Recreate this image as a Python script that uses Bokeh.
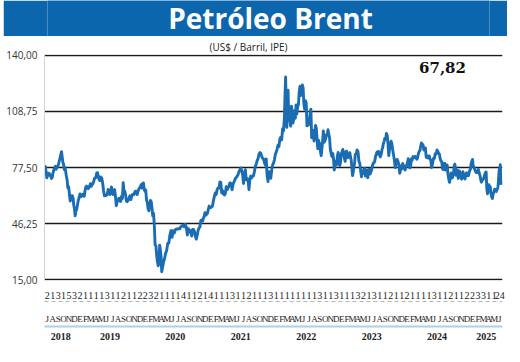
from bokeh.plotting import figure
from bokeh.layouts import column
from bokeh.models import (Range1d, LinearAxis, FixedTicker, Label, Grid, Title)
from bokeh.embed import file_html
from bokeh.resources import INLINE

title = "Petróleo Brent"
subtitle = "(US$ / Barril, IPE)"
y_ticks = [15.0, 46.25, 77.5, 108.75, 140.0]
years = [2018, 2019, 2020, 2021, 2022, 2023, 2024, 2025]
month_letters = (list("JASOND") + list("EFMAMJJASOND") * 6 + list("EFMAMJ"))
day_labels = [2, 1, 3, 1, 5, 3, 2, 1, 1, 1, 1, 3, 1, 1, 2, 1, 1, 2, 2, 3,
              2, 1, 1, 1, 1, 4, 1, 1, 2, 1, 4, 1, 1, 1, 3, 1, 1, 2, 1, 1,
              1, 3, 1, 1, 1, 1, 1, 1, 1, 1, 3, 1, 1, 3, 1,
              1, 1, 3, 2, 1, 3, 1, 1, 2, 1, 1, 2, 1, 1, 1, 1, 3, 1, 1, 2,
              1, 1, 2, 2, 3, 3, 1, 1, 24]
last_day = 24
last_month_days = 30

# Brent prices (US$/barrel), several readings per month, Jul-2018 .. Jun-2025
brent_2018 = [
    [77.3, 78.1, 75.3, 71.8, 72.9, 74.3, 74.2],
    [73.5, 72.6, 71.4, 72.1, 74.7, 76.2, 77.4],
    [78.2, 76.5, 77.6, 78.1, 79.4, 81.2, 82.7],
    [84.8, 86.3, 83.1, 80.3, 79.3, 76.4, 77.6, 75.5],
    [72.9, 70.7, 66.1, 66.8, 62.6, 58.8, 59.5],
    [61.7, 61.7, 60.3, 56.3, 54.4, 50.5, 53.2, 53.8],
]
brent_2019 = [
    [55.9, 58.7, 60.5, 62.7, 61.2, 61.6],
    [62.5, 61.7, 61.5, 64.6, 66.5, 67.1, 66.1],
    [65.7, 66.3, 67.2, 68.5, 67.0, 67.8, 68.4],
    [69.4, 71.1, 71.7, 71.9, 74.5, 74.6, 72.8],
    [70.9, 70.2, 72.2, 71.6, 68.7, 64.5],
    [61.7, 62.0, 61.9, 62.3, 65.2, 64.7],
    [62.4, 64.2, 66.7, 63.4, 62.5, 63.5, 65.2],
    [61.9, 56.2, 58.5, 59.3, 60.4, 58.7],
    [58.7, 61.5, 60.2, 69.0, 64.4, 64.3, 62.5],
    [58.9, 58.4, 59.1, 60.5, 61.7, 59.6],
    [61.7, 62.5, 62.3, 63.3, 64.3, 63.1],
    [62.4, 64.4, 65.2, 66.2, 66.5, 67.9, 66.0],
]
brent_2020 = [
    [68.6, 68.9, 65.4, 64.2, 64.9, 59.3, 58.2],
    [54.5, 53.3, 55.8, 59.1, 58.5, 54.95, 50.5],
    [51.9, 45.3, 34.4, 33.9, 28.7, 25.0, 22.7],
    [24.7, 34.1, 31.7, 28.1, 19.3, 21.4, 23.3, 25.3],
    [26.4, 29.6, 31.1, 35.1, 35.3],
    [39.8, 42.3, 38.6, 42.2, 41.0],
    [42.8, 43.2, 43.1, 43.4, 43.3],
    [44.4, 44.8, 45.4, 44.4, 45.8],
    [44.4, 39.8, 43.3, 41.4, 42.3],
    [39.3, 42.9, 42.9, 41.8, 39.1, 37.5],
    [39.5, 42.4, 43.8, 44.2, 47.9, 48.2],
    [47.6, 49.3, 50.0, 52.3, 50.9, 51.3, 51.8],
]
brent_2021 = [
    [53.6, 55.99, 55.1, 55.4, 55.9],
    [59.3, 61.5, 63.3, 62.4, 65.2, 66.1],
    [66.1, 69.4, 69.2, 63.3, 64.6, 62.7],
    [62.2, 62.95, 66.8, 65.1, 66.1, 67.3],
    [68.9, 68.7, 65.1, 68.5, 69.6],
    [71.4, 71.9, 72.7, 73.5, 75.2, 76.2],
    [77.2, 75.6, 73.6, 68.6, 74.1, 76.3],
    [70.7, 71.4, 70.6, 65.2, 71.1, 72.7],
    [71.7, 72.6, 72.9, 75.3, 78.1, 79.5],
    [81.3, 82.4, 84.9, 85.8, 85.5, 83.7],
    [82.7, 82.2, 80.3, 78.9, 82.3, 72.7],
    [69.7, 75.2, 73.5, 71.5, 76.1, 78.9],
]
brent_2022 = [
    [80.0, 81.8, 84.7, 86.1, 87.9, 90.0],
    [89.2, 93.3, 94.4, 92.97, 99.1, 97.9],
    [104.97, 118.1, 127.98, 111.1, 99.9, 107.9, 120.7, 107.9, 104.4],
    [104.4, 100.6, 111.7, 106.7, 102.3, 104.7, 109.3],
    [104.97, 112.4, 107.5, 111.6, 112.6, 119.4, 122.8],
    [117.6, 120.3, 123.6, 122.0, 113.1, 110.05, 114.8],
    [113.5, 100.7, 104.6, 101.2, 103.2, 107.3, 110.0],
    [94.1, 94.9, 98.2, 92.3, 96.7, 100.9, 99.3],
    [92.4, 88.0, 92.8, 91.4, 90.8, 86.2, 84.1, 87.96],
    [91.8, 97.9, 91.6, 92.4, 93.5, 95.8, 95.8],
    [98.6, 95.99, 93.9, 87.6, 85.4, 83.6, 85.4],
    [82.7, 76.1, 77.99, 81.2, 79.0, 83.9, 85.9],
]
brent_2023 = [
    [82.1, 78.6, 80.3, 85.3, 86.2, 87.6, 84.9],
    [82.8, 80.9, 86.4, 86.6, 83.0, 83.2, 84.3],
    [85.8, 83.3, 81.6, 77.5, 72.97, 74.99, 78.1, 79.8],
    [84.9, 85.1, 87.3, 86.3, 81.1, 79.5],
    [75.3, 72.3, 75.2, 74.2, 76.8, 77.1, 72.7],
    [74.3, 76.1, 71.8, 74.8, 76.6, 73.9, 74.9],
    [76.3, 78.5, 79.9, 80.1, 81.1, 83.6, 84.99],
    [86.2, 85.1, 86.4, 84.8, 83.4, 84.5, 86.9],
    [88.6, 90.6, 92.1, 93.9, 93.3, 96.55, 95.3],
    [90.9, 84.1, 87.7, 90.9, 92.2, 90.5, 87.4],
    [84.9, 81.6, 77.4, 80.6, 82.0, 80.9],
    [78.9, 74.3, 75.8, 76.6, 79.0, 79.7, 77.0],
]
brent_2024 = [
    [78.3, 76.1, 78.3, 78.6, 80.0, 82.4, 81.7],
    [77.3, 77.99, 82.2, 81.6, 83.5, 82.9, 83.6],
    [83.6, 82.8, 82.1, 82.9, 85.3, 86.4, 87.0],
    [89.4, 91.2, 90.5, 90.1, 87.3, 88.4, 88.4],
    [83.4, 82.96, 82.8, 83.9, 83.98, 82.1, 81.6],
    [77.5, 79.6, 82.6, 82.6, 85.2, 85.0],
    [87.3, 86.5, 85.4, 85.0, 82.4, 81.1, 80.7],
    [76.8, 76.3, 79.7, 79.7, 76.1, 79.0, 78.8],
    [73.8, 71.1, 69.2, 71.6, 74.5, 71.6, 71.98],
    [73.6, 78.05, 79.4, 77.1, 73.1, 74.4, 76.05, 71.4],
    [73.1, 75.5, 73.9, 72.3, 71.0, 73.3, 75.2, 72.9],
    [71.8, 71.1, 72.9, 74.5, 74.5, 73.0, 72.9, 74.6],
]
brent_2025 = [
    [75.9, 76.5, 79.8, 81.0, 82.0, 78.5, 77.7, 76.8],
    [75.7, 74.7, 75.2, 74.7, 76.5, 74.4, 73.2],
    [71.0, 69.3, 70.4, 70.6, 71.1, 72.2, 73.6, 74.7],
    [75.0, 65.6, 62.8, 64.8, 67.96, 66.1, 66.9, 63.1],
    [61.3, 60.2, 62.8, 64.0, 65.4, 64.8, 64.15],
    [65.3, 65.6, 66.9, 69.8, 74.2, 76.7, 77.0, 79.0, 71.5, 67.82],
]

# ---- build series -------------------------------------------------------
year_groups = [brent_2018, brent_2019, brent_2020, brent_2021, brent_2022,
               brent_2023, brent_2024, brent_2025]
months = [m for g in year_groups for m in g]
n_months = len(months)
xs, ys = [], []
for m, vals in enumerate(months):
    n = len(vals)
    if m == n_months - 1:
        span = (last_day - 1) / last_month_days
        pos = [k / (n - 1) * span for k in range(n)]
    else:
        pos = [k / n for k in range(n)]
    for f, v in zip(pos, vals):
        xs.append(m - 0.5 + f)
        ys.append(v)

year_ticks2 = []
start = 0
for g in year_groups:
    year_ticks2.append(2 * start + len(g) - 1)  # doubled centre position
    start += len(g)

BLUE = "#0c66ae"
LINE = "#1a6db2"

# ---- banner ---------------------------------------------------------------
banner = figure(width=504, height=36, x_range=Range1d(0, 1), y_range=Range1d(0, 36),
                output_backend="svg", toolbar_location=None,
                x_axis_type=None, y_axis_type=None,
                min_border_left=0, min_border_right=0, min_border_top=0,
                min_border_bottom=0, outline_line_color=None,
                background_fill_color=BLUE, border_fill_color=BLUE,
                margin=(0, 0, 0, 3))
banner.add_layout(Label(x=223, y=19, x_units="screen", text=title,
                        text_align="center", text_baseline="middle",
                        text_font="Open Sans", text_font_style="bold",
                        text_font_size="28px", text_color="white"))

# ---- main chart -------------------------------------------------------------
pad = (y_ticks[-1] - y_ticks[0]) / 226.0
p = figure(width=520, height=326, x_range=Range1d(-0.5, n_months - 0.5),
           y_range=Range1d(y_ticks[0] - pad, y_ticks[-1] + pad),
           output_backend="svg", toolbar_location=None,
           x_axis_type=None, y_axis_type=None,
           min_border_left=44, min_border_right=18, min_border_top=16,
           min_border_bottom=82, outline_line_color=None,
           background_fill_color="white", border_fill_color="white")
p.extra_x_ranges = {"yr": Range1d(-1, 2 * n_months - 1)}

p.title = Title(text=subtitle, align="left", offset=165, standoff=2,
                text_font="Open Sans", text_font_size="10px",
                text_font_style="normal", text_color="#222222")

y_labels = {t: f"{t:.2f}".replace(".", ",") for t in y_ticks}
yax = LinearAxis(ticker=FixedTicker(ticks=y_ticks), major_label_overrides=y_labels,
                 axis_line_color="#d4d4d4", axis_line_width=1,
                 major_tick_line_color=None, minor_tick_line_color=None,
                 major_tick_in=0, major_tick_out=0, major_label_standoff=7,
                 major_label_text_font="Open Sans",
                 major_label_text_font_size="10px",
                 major_label_text_color="#333333")
p.add_layout(yax, "left")
p.add_layout(Grid(dimension=1, ticker=FixedTicker(ticks=y_ticks),
                  grid_line_color="#1a1a1a", grid_line_width=1.3))


def bottom_axis(labels, ticks, **kw):
    return LinearAxis(ticker=FixedTicker(ticks=ticks),
                      major_label_overrides={t: str(l) for t, l in zip(ticks, labels)},
                      major_tick_line_color=None, minor_tick_line_color=None,
                      major_tick_in=0, major_tick_out=0, **kw)


day_ax = bottom_axis(day_labels, list(range(n_months)),
                     axis_line_color=None, major_label_standoff=11,
                     major_label_text_font="Liberation Sans Narrow",
                     major_label_text_font_size="10px",
                     major_label_text_color="#222222")
mon_ax = bottom_axis(month_letters, list(range(n_months)),
                     axis_line_color="#aab6c2", axis_line_dash="4 3",
                     axis_line_width=1, major_label_standoff=12,
                     major_label_text_font="Liberation Sans Narrow",
                     major_label_text_font_size="9px",
                     major_label_text_color="#222222")
yr_ax = bottom_axis(years, year_ticks2, x_range_name="yr",
                    axis_line_color="#a9d0ec", axis_line_width=2,
                    major_label_standoff=6,
                    major_label_text_font="Liberation Sans Narrow",
                    major_label_text_font_size="10px",
                    major_label_text_font_style="bold",
                    major_label_text_color="#222222")
p.add_layout(day_ax, "below")
p.add_layout(mon_ax, "below")
p.add_layout(yr_ax, "below")

p.line(xs, ys, line_color=LINE, line_width=2.9, line_join="round")

last_txt = f"{ys[-1]:.2f}".replace(".", ",")
p.add_layout(Label(x=398, y=213, x_units="screen", y_units="screen",
                   text=last_txt, text_align="center", text_baseline="middle",
                   text_font="DejaVu Serif", text_font_style="bold",
                   text_font_size="15px", text_color="#111111"))

layout = column(banner, p, spacing=0)
open("out.html", "w").write(file_html(layout, INLINE))
